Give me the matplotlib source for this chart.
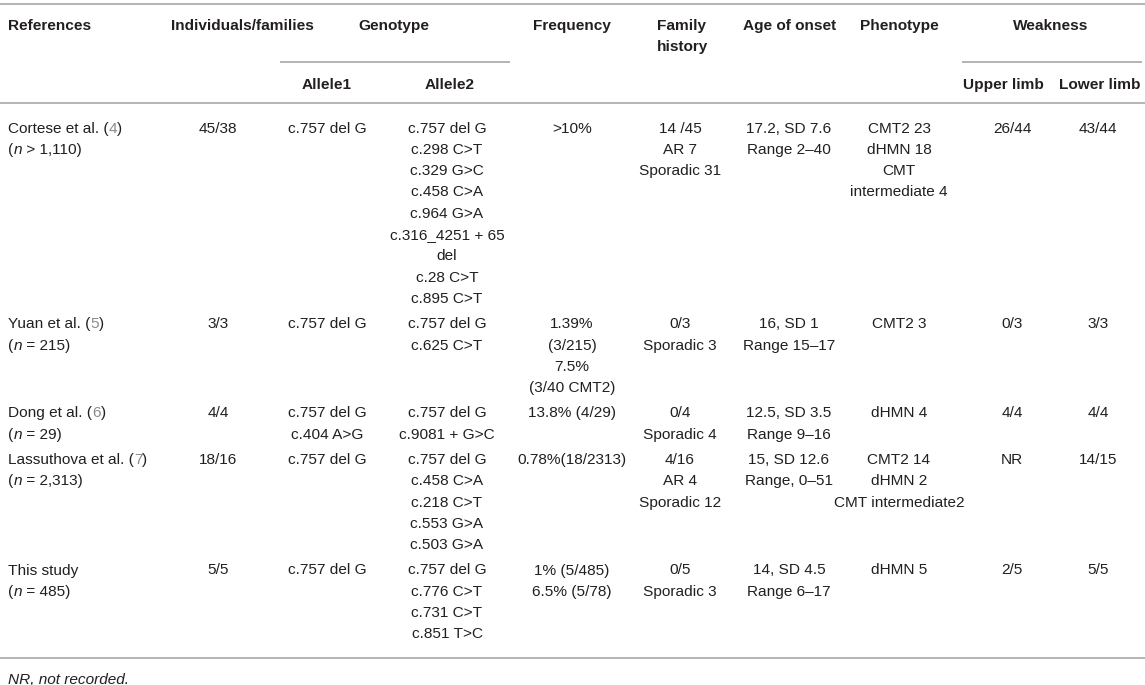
import matplotlib
matplotlib.use('Agg')
import matplotlib.pyplot as plt

plt.rcParams['font.family'] = ['Liberation Sans', 'DejaVu Sans']

# ---- table content ----
references = ['Cortese et al.', 'Yuan et al.', 'Dong et al.', 'Lassuthova et al.', 'This study']
ref_numbers = ['4', '5', '6', '7', '']
cohort_sign = ['>', '=', '=', '=', '=']
cohort_size = ['1,110', '215', '29', '2,313', '485']
individuals = ['45/38', '3/3', '4/4', '18/16', '5/5']
allele1 = [['c.757 del G'], ['c.757 del G'], ['c.757 del G', 'c.404 A>G'],
           ['c.757 del G'], ['c.757 del G']]
allele2 = [['c.757 del G', 'c.298 C>T', 'c.329 G>C', 'c.458 C>A', 'c.964 G>A',
            'c.316_4251 + 65', 'del', 'c.28 C>T', 'c.895 C>T'],
           ['c.757 del G', 'c.625 C>T'],
           ['c.757 del G', 'c.9081 + G>C'],
           ['c.757 del G', 'c.458 C>A', 'c.218 C>T', 'c.553 G>A', 'c.503 G>A'],
           ['c.757 del G', 'c.776 C>T', 'c.731 C>T', 'c.851 T>C']]
frequency = [['>10%'], ['1.39%', '(3/215)', '7.5%', '(3/40 CMT2)'], ['13.8% (4/29)'],
             ['0.78%(18/2313)'], ['1% (5/485)', '6.5% (5/78)']]
family_history = [['14 /45', 'AR 7', 'Sporadic 31'], ['0/3', 'Sporadic 3'],
                  ['0/4', 'Sporadic 4'], ['4/16', 'AR 4', 'Sporadic 12'],
                  ['0/5', 'Sporadic 3']]
age_onset = [['17.2, SD 7.6', 'Range 2–40'], ['16, SD 1', 'Range 15–17'],
             ['12.5, SD 3.5', 'Range 9–16'], ['15, SD 12.6', 'Range, 0–51'],
             ['14, SD 4.5', 'Range 6–17']]
phenotype = [['CMT2 23', 'dHMN 18', 'CMT', 'intermediate 4'], ['CMT2 3'], ['dHMN 4'],
             ['CMT2 14', 'dHMN 2', 'CMT intermediate2'], ['dHMN 5']]
upper_limb = ['26/44', '0/3', '4/4', 'NR', '2/5']
lower_limb = ['43/44', '3/3', '4/4', '14/15', '5/5']
footnote = 'NR, not recorded.'

# ---- layout (pixels) ----
W, H = 1145, 685
FS = 11.1
INK = '#231f20'
LINK = '#8a8a8a'
RULE = '#a8a8a8'
LH = 21.3        # line height
PAD = 4.0        # extra gap between rows
FIRST_ROW = 127

fig = plt.figure(figsize=(W / 100, H / 100), dpi=100)
ax = fig.add_axes([0, 0, 1, 1])
ax.set_xlim(0, W)
ax.set_ylim(H, 0)
ax.axis('off')
renderer = fig.canvas.get_renderer()


def put(x, y, s, ha='center', bold=False, style='normal', color=INK):
    # y is the visual middle of the line, shift to baseline
    return ax.text(x, y + 5.5, s, ha=ha, va='baseline', fontsize=FS,
                   fontweight='bold' if bold else 'normal', style=style, color=color)


def put_pieces(x, y, pieces):
    for s, color, style in pieces:
        t = put(x, y, s, ha='left', color=color, style=style)
        x += t.get_window_extent(renderer).width


def hrule(x0, x1, y):
    ax.plot([x0, x1], [y, y], color=RULE, lw=1.2, solid_capstyle='butt')


# rules
hrule(0, W, 4)
hrule(280, 510, 62)
hrule(962, 1142, 62)
hrule(0, W, 103)
hrule(0, W, 658)

# header
put(8, 24, 'References', ha='left', bold=True)
put(171, 24, 'Individuals/families', ha='left', bold=True)
put(394, 24, 'Genotype', bold=True)
put(572, 24, 'Frequency', bold=True)
put(682, 24, 'Family', bold=True)
put(682, 45, 'history', bold=True)
put(790, 24, 'Age of onset', bold=True)
put(860, 24, 'Phenotype', ha='left', bold=True)
put(1051, 24, 'Weakness', bold=True)
put(327, 83, 'Allele1', bold=True)
put(450, 83, 'Allele2', bold=True)
put(1003, 83, 'Upper limb', bold=True)
put(1100, 83, 'Lower limb', bold=True)

# body
col_x = {'ind': 218, 'a1': 327, 'a2': 447, 'freq': 572, 'fam': 680,
         'age': 789, 'phen': 899, 'up': 1012, 'low': 1098}

y = FIRST_ROW
for i in range(len(references)):
    if ref_numbers[i]:
        put_pieces(8, y, [(references[i] + ' (', INK, 'normal'),
                          (ref_numbers[i], LINK, 'normal'),
                          (')', INK, 'normal')])
    else:
        put(8, y, references[i], ha='left')
    put_pieces(8, y + LH, [('(', INK, 'normal'), ('n', INK, 'italic'),
                           (' ' + cohort_sign[i] + ' ' + cohort_size[i] + ')', INK, 'normal')])

    cells = [('ind', [individuals[i]]), ('a1', allele1[i]), ('a2', allele2[i]),
             ('freq', frequency[i]), ('fam', family_history[i]), ('age', age_onset[i]),
             ('phen', phenotype[i]), ('up', [upper_limb[i]]), ('low', [lower_limb[i]])]
    n_lines = 2
    for key, lines in cells:
        for k, s in enumerate(lines):
            put(col_x[key], y + k * LH, s)
        n_lines = max(n_lines, len(lines))
    y += n_lines * LH + PAD

put(8, 678, footnote, ha='left', style='italic')

fig.savefig('out.png', dpi=100)
